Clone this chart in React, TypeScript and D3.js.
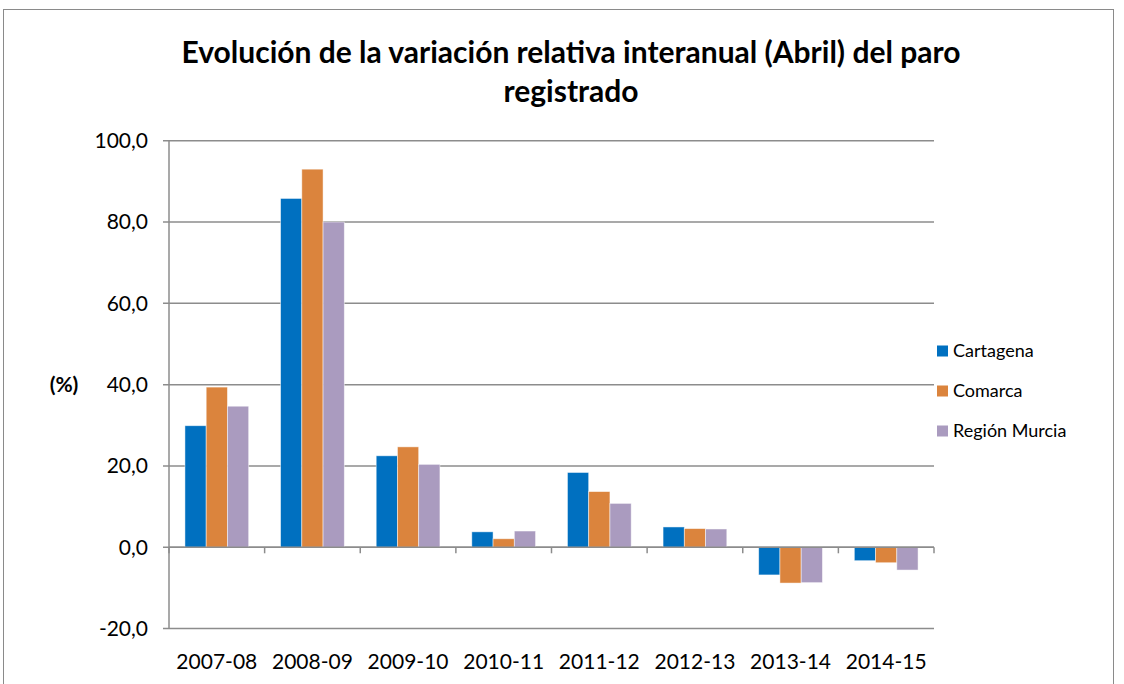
import React, { useEffect, useRef } from 'react';
import * as d3 from 'd3';

const categories = ['2007-08', '2008-09', '2009-10', '2010-11', '2011-12', '2012-13', '2013-14', '2014-15'];
const seriesNames = ['Cartagena', 'Comarca', 'Región Murcia'];
const cartagena = [29.9, 85.8, 22.5, 3.8, 18.4, 5.0, -6.8, -3.3];
const comarca = [39.4, 93.0, 24.7, 2.1, 13.7, 4.6, -8.8, -3.8];
const regionMurcia = [34.7, 80.0, 20.4, 4.0, 10.8, 4.5, -8.7, -5.6];
const yTicks = [-20, 0, 20, 40, 60, 80, 100];
const colors = ['#0070C0', '#DB843D', '#AA9BBF'];

const WIDTH = 1124;
const HEIGHT = 684;
const FONT = 'Lato, "Open Sans", sans-serif';

const App: React.FC = () => {
  const svgRef = useRef<SVGSVGElement>(null);

  useEffect(() => {
    if (!svgRef.current) return;
    const svg = d3.select(svgRef.current);
    svg.selectAll('*').remove();

    const left = 169, right = 934, top = 140.7, bottom = 628.6;
    const series = [cartagena, comarca, regionMurcia];

    const x = d3.scaleBand<string>().domain(categories).range([left, right]);
    const y = d3.scaleLinear().domain([-20, 100]).range([bottom, top]);
    const barW = x.bandwidth() / 4.5;
    const inner = d3.scaleBand<number>()
      .domain([0, 1, 2])
      .range([(x.bandwidth() - 3 * barW) / 2, (x.bandwidth() + 3 * barW) / 2]);

    // outer frame
    svg.append('rect')
      .attr('x', 3.5).attr('y', 9.5)
      .attr('width', 1110).attr('height', 700)
      .attr('fill', '#fff').attr('stroke', '#8a8a8a').attr('stroke-width', 1);

    // title
    const title = svg.append('text')
      .attr('text-anchor', 'middle')
      .style('font-family', FONT)
      .style('font-weight', 'bold')
      .style('font-size', '30px')
      .attr('fill', '#000');
    title.append('tspan').attr('x', 571).attr('y', 63).text('Evolución de la variación relativa interanual (Abril) del paro');
    title.append('tspan').attr('x', 571).attr('y', 102).text('registrado');

    // gridlines
    svg.append('g').selectAll('line')
      .data(yTicks)
      .enter().append('line')
      .attr('x1', left - 6).attr('x2', right)
      .attr('y1', d => y(d)).attr('y2', d => y(d))
      .attr('stroke', '#8c8c8c').attr('stroke-width', 1.5);

    // y axis line
    svg.append('line')
      .attr('x1', left).attr('x2', left)
      .attr('y1', top).attr('y2', bottom)
      .attr('stroke', '#8c8c8c').attr('stroke-width', 1.5);

    // y labels
    svg.append('g').selectAll('text')
      .data(yTicks)
      .enter().append('text')
      .attr('x', 148).attr('y', d => y(d))
      .attr('dy', '0.35em')
      .attr('text-anchor', 'end')
      .style('font-family', FONT)
      .style('font-size', '21px')
      .text(d => d3.format('.1f')(d).replace('.', ',').replace('\u2212', '-'));

    svg.append('text')
      .attr('x', 64).attr('y', y(40))
      .attr('dy', '0.35em')
      .attr('text-anchor', 'middle')
      .style('font-family', FONT)
      .style('font-size', '21px')
      .style('font-weight', 'bold')
      .text('(%)');

    // bars
    series.forEach((vals, si) => {
      svg.append('g').selectAll('rect')
        .data(vals)
        .enter().append('rect')
        .attr('x', (_, i) => (x(categories[i]) || 0) + (inner(si) || 0))
        .attr('width', barW)
        .attr('y', d => y(Math.max(0, d)))
        .attr('height', d => Math.abs(y(d) - y(0)))
        .attr('fill', colors[si])
        .attr('stroke', '#fff')
        .attr('stroke-opacity', 0.6)
        .attr('stroke-width', 0.8);
    });

    // x axis line + ticks
    svg.append('line')
      .attr('x1', left).attr('x2', right)
      .attr('y1', y(0)).attr('y2', y(0))
      .attr('stroke', '#8c8c8c').attr('stroke-width', 1.5);
    const bounds = categories.map(c => x(c) || 0).concat([right]);
    svg.append('g').selectAll('line')
      .data(bounds)
      .enter().append('line')
      .attr('x1', d => d).attr('x2', d => d)
      .attr('y1', y(0)).attr('y2', y(0) + 6)
      .attr('stroke', '#8c8c8c').attr('stroke-width', 1.5);

    // x labels
    svg.append('g').selectAll('text')
      .data(categories)
      .enter().append('text')
      .attr('x', d => (x(d) || 0) + x.bandwidth() / 2)
      .attr('y', 662)
      .attr('dy', '0.35em')
      .attr('text-anchor', 'middle')
      .style('font-family', FONT)
      .style('font-size', '21px')
      .text(d => d);

    // legend
    const legend = svg.append('g');
    const legendY = [351, 391, 431];
    seriesNames.forEach((name, i) => {
      legend.append('rect')
        .attr('x', 937).attr('y', legendY[i] - 5.5)
        .attr('width', 11).attr('height', 11)
        .attr('fill', colors[i]);
      legend.append('text')
        .attr('x', 953).attr('y', legendY[i])
        .attr('dy', '0.35em')
        .style('font-family', FONT)
        .style('font-size', '18px')
        .text(name);
    });
  }, []);

  return (
    <svg ref={svgRef} width={WIDTH} height={HEIGHT}
      style={{ position: 'absolute', left: 0, top: 0, background: '#fff' }} />
  );
};

export default App;
